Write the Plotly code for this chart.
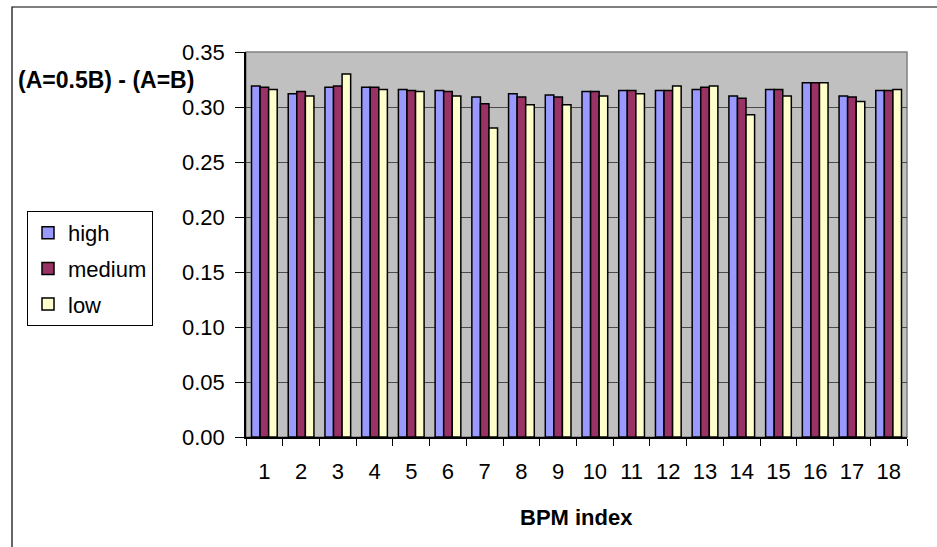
import plotly.graph_objects as go

categories = [str(i) for i in range(1, 19)]
high = [0.319, 0.312, 0.318, 0.318, 0.316, 0.315, 0.309, 0.312, 0.311, 0.314,
        0.315, 0.315, 0.316, 0.310, 0.316, 0.322, 0.310, 0.315]
medium = [0.318, 0.314, 0.319, 0.318, 0.315, 0.314, 0.303, 0.309, 0.309, 0.314,
          0.315, 0.315, 0.318, 0.308, 0.316, 0.322, 0.309, 0.315]
low = [0.316, 0.310, 0.330, 0.316, 0.314, 0.310, 0.281, 0.302, 0.302, 0.310,
       0.312, 0.319, 0.319, 0.293, 0.310, 0.322, 0.305, 0.316]
series_names = ["high", "medium", "low"]
colors = ["#9999FF", "#993366", "#FFFFCC"]
ytick_vals = [0.0, 0.05, 0.10, 0.15, 0.20, 0.25, 0.30, 0.35]

FONT = "Liberation Sans, Arial, sans-serif"

fig = go.Figure()
for name, vals, col in zip(series_names, [high, medium, low], colors):
    fig.add_trace(go.Bar(
        x=categories, y=vals, name=name, legendgroup=name,
        marker=dict(color=col, line=dict(color="black", width=1.5)),
    ))

W, H = 937, 547
L, R, T, B = 246, 30, 52, 110
pw, ph = W - L - R, H - T - B

def px(x):
    return (x - L) / pw

def py(y):
    return (H - B - y) / ph

fig.update_layout(
    width=W, height=H,
    margin=dict(l=L, r=R, t=T, b=B),
    paper_bgcolor="white",
    plot_bgcolor="#C0C0C0",
    barmode="group",
    bargap=0.3,
    bargroupgap=0,
    font=dict(family=FONT, size=20, color="black"),
    showlegend=True,
    legend=dict(
        x=px(27), y=py(211), xanchor="left", yanchor="top",
        bordercolor="black", borderwidth=1, bgcolor="white",
        font=dict(family=FONT, size=22, color="black"),
        tracegroupgap=4, itemwidth=30,
    ),
    xaxis=dict(
        type="category",
        showline=True, linecolor="black", linewidth=1.5,
        ticks="outside", tickson="boundaries", ticklen=7, tickcolor="black",
        tickfont=dict(family=FONT, size=22, color="black"),
        ticklabelstandoff=14,
        showgrid=False, zeroline=False,
    ),
    yaxis=dict(
        range=[0, 0.35],
        tickvals=ytick_vals, tickformat=".2f",
        showline=True, linecolor="black", linewidth=1.5,
        ticks="outside", ticklen=9, tickcolor="black",
        tickfont=dict(family=FONT, size=22, color="black"),
        ticklabelstandoff=6,
        showgrid=True, gridcolor="#4a4a4a", gridwidth=1.3,
        zeroline=False,
    ),
    shapes=[
        dict(type="rect", xref="paper", yref="paper", x0=0, x1=1, y0=0, y1=1,
             line=dict(color="#808080", width=1.5), layer="below"),
        dict(type="rect", xref="paper", yref="paper",
             x0=px(12), x1=px(960), y0=py(7), y1=py(580),
             line=dict(color="black", width=1.2), layer="above"),
    ],
    annotations=[
        dict(text="<b>(A=0.5B) - (A=B)</b>", xref="paper", yref="paper",
             x=px(16), y=py(80), xanchor="left", yanchor="middle",
             showarrow=False, font=dict(family=FONT, size=23, color="black")),
        dict(text="<b>BPM index</b>", xref="paper", yref="paper",
             x=0.5, y=py(517), xanchor="center", yanchor="middle",
             showarrow=False, font=dict(family=FONT, size=22, color="black")),
    ],
)

fig.write_html("out.html")
